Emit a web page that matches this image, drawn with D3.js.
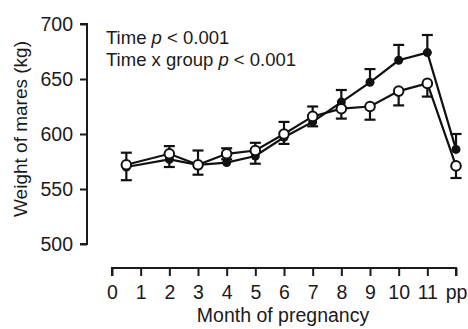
<!DOCTYPE html>
<html>
<head>
<meta charset="utf-8">
<script src="https://cdn.jsdelivr.net/npm/d3@7"></script>
<style>
  body { margin: 0; background: #fff; }
  svg text { font-family: "Liberation Sans", Arial, sans-serif; fill: #1a1a1a; }
</style>
</head>
<body>
<div id="main"></div>
<script>
// month of sampling (12 = post partum)
let months = [0.5, 2, 3, 4, 5, 6, 7, 8, 9, 10, 11, 12]
let filledMean = [570, 577, 572, 574, 580, 597, 611, 629, 647, 667, 674, 586]
let filledErr = [13, 12, 13, 13, 12, 14, 14, 11, 12, 14, 16, 14]
let openMean = [572, 582, 572, 582, 585, 600, 616, 623, 625, 639, 646, 571]
let openErr = [14, 12, 9, 5, 12, 9, 9, 9, 12, 13, 12, 11]
let xTicks = [0, 1, 2, 3, 4, 5, 6, 7, 8, 9, 10, 11, 12]
let xTickLabels = ["0", "1", "2", "3", "4", "5", "6", "7", "8", "9", "10", "11", "pp"]
let yTicks = [500, 550, 600, 650, 700]

let width = 468
let height = 329

let svg = d3.select('#main')
            .append('svg')
            .attr('width', width)
            .attr('height', height)

let xScale = d3.scaleLinear().domain([0, 12]).range([112, 456])
let yScale = d3.scaleLinear().domain([500, 700]).range([244, 24])

let yAxis = d3.axisLeft(yScale).tickValues(yTicks).tickSize(7).tickPadding(7)
let xAxis = d3.axisBottom(xScale).tickValues(xTicks).tickSize(8).tickPadding(9)
              .tickFormat((d, i) => xTickLabels[i])

let gy = svg.append('g')
            .attr('transform', 'translate(87, 0)')
            .call(yAxis)
gy.select('.domain').attr('d', 'M-7,' + yScale(700) + 'H0V' + yScale(500) + 'H-7')

let gx = svg.append('g')
            .attr('transform', 'translate(0, 268)')
            .call(xAxis)
gx.select('.domain').attr('d', 'M' + xScale(0) + ',8V0H' + xScale(12) + 'V8')

svg.selectAll('.domain, .tick line')
   .attr('stroke', '#1a1a1a')
   .attr('stroke-width', 2)
svg.selectAll('.tick text')
   .style('font-size', '19.5px')
   .attr('fill', '#1a1a1a')

svg.append('text')
   .attr('transform', 'translate(27, 129) rotate(-90)')
   .attr('text-anchor', 'middle')
   .style('font-size', '19px')
   .text('Weight of mares (kg)')

svg.append('text')
   .attr('x', 283)
   .attr('y', 322)
   .attr('text-anchor', 'middle')
   .style('font-size', '19.5px')
   .text('Month of pregnancy')

let notes = [["Time ", " < 0.001"], ["Time x group ", " < 0.001"]]
notes.forEach((n, i) => {
    let t = svg.append('text')
               .attr('x', 106)
               .attr('y', 44 + i * 22)
               .style('font-size', '18.5px')
    t.append('tspan').text(n[0])
    t.append('tspan').style('font-style', 'italic').text('p')
    t.append('tspan').text(n[1])
})

let filled = months.map((m, i) => ({x: m, y: filledMean[i], e: filledErr[i]}))
let open = months.map((m, i) => ({x: m, y: openMean[i], e: openErr[i]}))

let line = d3.line().x(d => xScale(d.x)).y(d => yScale(d.y))

// lines
;[filled, open].forEach(s => {
    svg.append('path')
       .datum(s)
       .attr('d', line)
       .attr('fill', 'none')
       .attr('stroke', '#111')
       .attr('stroke-width', 2.2)
})

// error bars: filled upwards, open downwards
let errBars = (s, dir) => {
    let g = svg.append('g').attr('stroke', '#111').attr('stroke-width', 2.2)
    g.selectAll('line.v')
     .data(s)
     .enter()
     .append('line')
     .attr('x1', d => xScale(d.x))
     .attr('x2', d => xScale(d.x))
     .attr('y1', d => yScale(d.y))
     .attr('y2', d => yScale(d.y + dir * d.e))
    g.selectAll('line.c')
     .data(s)
     .enter()
     .append('line')
     .attr('x1', d => xScale(d.x) - 5.5)
     .attr('x2', d => xScale(d.x) + 5.5)
     .attr('y1', d => yScale(d.y + dir * d.e))
     .attr('y2', d => yScale(d.y + dir * d.e))
}
errBars(filled, 1)
errBars(open, -1)

svg.append('g')
   .selectAll('circle')
   .data(filled)
   .enter()
   .append('circle')
   .attr('cx', d => xScale(d.x))
   .attr('cy', d => yScale(d.y))
   .attr('r', 4.5)
   .attr('fill', '#111')

svg.append('g')
   .selectAll('circle')
   .data(open)
   .enter()
   .append('circle')
   .attr('cx', d => xScale(d.x))
   .attr('cy', d => yScale(d.y))
   .attr('r', 4.8)
   .attr('fill', '#fff')
   .attr('stroke', '#111')
   .attr('stroke-width', 2)
</script>
</body>
</html>
